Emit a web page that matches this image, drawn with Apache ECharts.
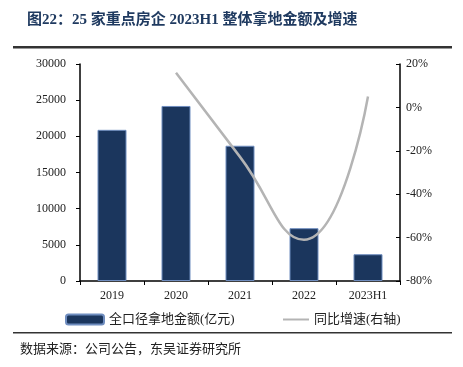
<!DOCTYPE html>
<html>
<head>
<meta charset="utf-8">
<script src="https://cdn.jsdelivr.net/npm/echarts@6/dist/echarts.min.js"></script>
<style>
  html, body { margin: 0; padding: 0; background: #fff; }
  #chart { width: 463px; height: 367px; }
</style>
</head>
<body>
<div id="chart"></div>
<script>
// 25家重点房企 拿地金额及增速
var categories = ['2019', '2020', '2021', '2022', '2023H1'];
var landAmount = [20900, 24200, 18700, 7300, 3700];
var growthRate = [null, 16, -22.8, -61, 5];

var serif = '"Liberation Serif", "Noto Sans CJK SC", serif';
var cjk = '"Liberation Serif", "Noto Sans CJK SC", sans-serif';

function renderLandChart() {
    var dom = document.getElementById('chart');
    var myChart = echarts.init(dom);

    var option = {
        backgroundColor: '#FFFFFF',
        animation: false,
        title: {
            text: '图22：25 家重点房企 2023H1 整体拿地金额及增速',
            left: 22,
            top: 8,
            textStyle: {
                fontFamily: cjk,
                fontSize: 15,
                fontWeight: 'bold',
                color: '#1F3A60'
            }
        },
        graphic: [
            { type: 'rect', shape: { x: 13, y: 46, width: 439, height: 2.5 }, style: { fill: '#333333' } },
            { type: 'rect', shape: { x: 13, y: 332, width: 439, height: 1.5 }, style: { fill: '#333333' } },
            {
                type: 'text', left: 20, top: 343,
                style: { text: '数据来源：公司公告，东吴证券研究所', font: '13px ' + cjk, fill: '#222222' }
            }
        ],
        grid: {
            top: 64,
            bottom: 86,
            left: 80,
            right: 63
        },
        legend: [{
            data: ['全口径拿地金额(亿元)'],
            left: 60,
            top: 308,
            itemWidth: 38,
            itemHeight: 10,
            itemGap: 2,
            textStyle: { fontFamily: cjk, fontSize: 13, color: '#222222' }
        }, {
            data: [{ name: '同比增速(右轴)', icon: 'path://M0,4L26,4L26,6L0,6Z' }],
            left: 278,
            top: 308,
            itemWidth: 26,
            itemHeight: 10,
            textStyle: { fontFamily: cjk, fontSize: 13, color: '#222222' }
        }],
        xAxis: {
            type: 'category',
            data: categories,
            axisLine: { lineStyle: { color: '#000', width: 1.5 } },
            axisTick: { show: true, alignWithLabel: false, inside: false, length: 4, lineStyle: { color: '#000' } },
            axisLabel: { fontFamily: serif, fontSize: 12, color: '#222', margin: 9 }
        },
        yAxis: [{
            type: 'value',
            min: 0,
            max: 30000,
            interval: 5000,
            splitLine: { show: false },
            axisLine: { show: true, lineStyle: { color: '#000', width: 1.5 } },
            axisTick: { show: true, length: 4, lineStyle: { color: '#000' } },
            axisLabel: {
                fontFamily: serif, fontSize: 12, color: '#222', margin: 14,
                formatter: function(v) { return String(v); }
            }
        }, {
            type: 'value',
            min: -80,
            max: 20,
            interval: 20,
            splitLine: { show: false },
            axisLine: { show: true, lineStyle: { color: '#000', width: 1.5 } },
            axisTick: { show: true, inside: true, length: 4, lineStyle: { color: '#000' } },
            axisLabel: { fontFamily: serif, fontSize: 12, color: '#222', margin: 6, formatter: '{value}%' }
        }],
        series: [{
            name: '全口径拿地金额(亿元)',
            type: 'bar',
            barWidth: 29,
            data: landAmount,
            itemStyle: {
                color: '#1B365D',
                borderColor: '#6F8DBF',
                borderWidth: 1
            }
        }, {
            name: '同比增速(右轴)',
            type: 'line',
            yAxisIndex: 1,
            smooth: 0.5,
            symbol: 'none',
            connectNulls: false,
            data: growthRate,
            lineStyle: { color: '#B4B4B4', width: 2.5 },
            itemStyle: { color: '#B4B4B4' }
        }]
    };

    if (option && typeof option === 'object') {
        myChart.setOption(option);
    }

    window.onresize = function() {
        myChart.resize();
    };
}
renderLandChart();
</script>
</body>
</html>
